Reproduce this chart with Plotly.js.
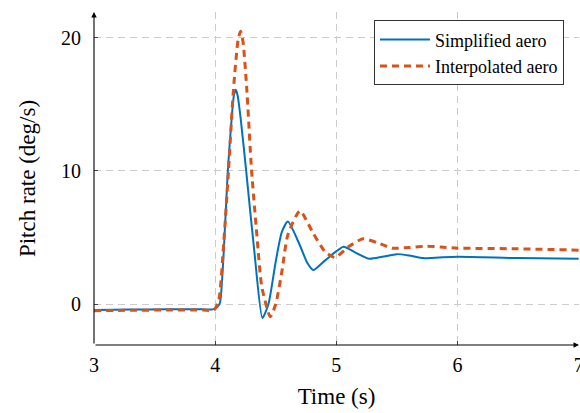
<!DOCTYPE html>
<html><head><meta charset="utf-8">
<script src="https://cdn.plot.ly/plotly-3.0.1.min.js"></script>
<style>html,body{margin:0;padding:0;background:#fff}#c{width:580px;height:413px}</style>
</head><body><div id="c"></div>
<script>
// Simplified aero (blue)
const tSimp = [3.0, 3.3, 3.6, 3.9, 3.98, 4.02, 4.04, 4.07, 4.105, 4.14, 4.155, 4.17, 4.185, 4.21, 4.255, 4.325, 4.39, 4.44, 4.50, 4.55, 4.60, 4.70, 4.76, 4.81, 4.91, 5.06, 5.15, 5.27, 5.38, 5.5, 5.6, 5.72, 5.85, 6.0, 6.5, 7.0];
const qSimp = [-0.45, -0.42, -0.4, -0.4, -0.4, -0.2, 0.1, 3.8, 10.1, 14.4, 15.7, 16.1, 15.7, 14.0, 10.1, 3.8, -1.05, 0.0, 3.2, 5.4, 6.2, 4.4, 3.1, 2.55, 3.3, 4.3, 3.9, 3.4, 3.55, 3.75, 3.65, 3.45, 3.5, 3.55, 3.45, 3.4];
// Interpolated aero (orange)
const tInterp = [3.0, 3.3, 3.6, 3.9, 3.99, 4.03, 4.07, 4.11, 4.15, 4.19, 4.21, 4.23, 4.26, 4.30, 4.345, 4.385, 4.455, 4.50, 4.55, 4.60, 4.70, 4.81, 4.91, 4.99, 5.10, 5.22, 5.34, 5.46, 5.6, 5.75, 5.9, 6.0, 6.5, 7.0];
const qInterp = [-0.5, -0.47, -0.45, -0.45, -0.45, 0.3, 4.5, 10.0, 16.0, 19.9, 20.5, 19.7, 16.3, 10.1, 5.1, 1.3, -0.95, 0.0, 2.4, 5.2, 7.0, 5.3, 3.9, 3.5, 4.3, 4.9, 4.6, 4.2, 4.25, 4.35, 4.25, 4.2, 4.15, 4.05];
const xTicks = [3, 4, 5, 6, 7];
const xTickText = ['3', '4', '5', '6', '7'];
const yTicks = [0, 10, 20];
const yTickText = ['0', '10', '20'];

const fam = 'Liberation Serif';
const titleFont = {family: fam, size: 23, color: '#000'};
const tickFont = {family: fam, size: 20, color: '#000'};
const traces = [
  {x: tSimp, y: qSimp, mode: 'lines', name: 'Simplified aero', line: {color: '#0072BD', width: 2, shape: 'spline', smoothing: 0.6}},
  {x: tInterp, y: qInterp, mode: 'lines', name: 'Interpolated aero', line: {color: '#D95319', width: 3, dash: '7px,5px', shape: 'spline', smoothing: 0.6}}
];
const layout = {
  width: 580, height: 413,
  margin: {l: 94, r: 1, t: 12, b: 68},
  paper_bgcolor: '#fff', plot_bgcolor: '#fff',
  font: {family: fam, size: 20, color: '#000'},
  showlegend: true,
  legend: {x: 0.969, y: 0.975, xanchor: 'right', yanchor: 'top', bordercolor: '#333', borderwidth: 1, bgcolor: '#fff',
           font: {family: fam, size: 18, color: '#000'}, tracegroupgap: 0, itemwidth: 50},
  xaxis: {range: [3, 7.003], tickvals: xTicks, ticktext: xTickText, showgrid: true, gridcolor: '#cccccc', griddash: '7px,5px', gridwidth: 1,
          zeroline: false, showline: false, ticks: 'inside', ticklen: 4, tickcolor: '#444', ticklabelstandoff: 6, ticklabeloverflow: 'allow',
          tickfont: tickFont,
          title: {text: 'Time (s)', font: titleFont, standoff: 12}},
  yaxis: {range: [-3.08, 21.95], tickvals: yTicks, ticktext: yTickText, showgrid: true, gridcolor: '#cccccc', griddash: '7px,5px', gridwidth: 1,
          zeroline: false, showline: false, ticks: 'inside', ticklen: 4, tickcolor: '#444', ticklabelstandoff: 12,
          tickfont: tickFont,
          title: {text: 'Pitch rate (deg/s)', font: titleFont, standoff: 18}},
  annotations: [
    {xref: 'paper', yref: 'paper', x: 0, y: 1, axref: 'pixel', ayref: 'pixel', ax: 0, ay: 333, showarrow: true, arrowhead: 2, arrowsize: 1, arrowwidth: 1.1, arrowcolor: '#000', text: ''},
    {xref: 'paper', yref: 'paper', x: 1, y: 0, axref: 'pixel', ayref: 'pixel', ax: -485, ay: 0, showarrow: true, arrowhead: 2, arrowsize: 1, arrowwidth: 1.1, arrowcolor: '#000', text: ''}
  ]
};
Plotly.newPlot('c', traces, layout, {staticPlot: true, displayModeBar: false});
</script></body></html>
